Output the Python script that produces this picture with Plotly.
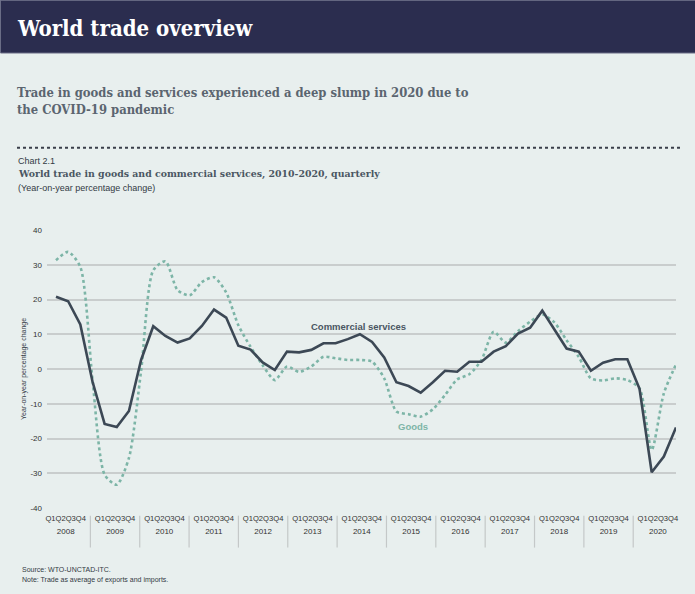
import plotly.graph_objects as go

years = [str(y) for y in range(2008, 2021)]
quarter_label = "Q1Q2Q3Q4"

commercial_services = [
    20.8, 19.5, 12.8, -3.6,
    -15.8, -16.7, -12.1, 2.6,
    12.3, 9.5, 7.6, 8.8,
    12.4, 17.1, 14.8, 6.7,
    5.6, 1.9, -0.3, 5.0,
    4.8, 5.5, 7.4, 7.4,
    8.6, 10.0, 7.8, 3.3,
    -3.8, -4.9, -6.8, -3.8,
    -0.5, -0.8, 2.1, 2.1,
    5.0, 6.6, 10.2, 11.9,
    16.8, 11.2, 5.9, 5.0,
    -0.5, 1.8, 2.8, 2.8,
    -5.7, -29.7, -25.2, -16.8,
]
goods = [
    31.3, 33.7, 29.4, -3.0,
    -30.4, -33.3, -25.6, -0.5,
    28.4, 31.0, 22.7, 21.2,
    25.0, 26.4, 22.0, 12.6,
    6.4, 1.1, -3.2, 0.7,
    -0.8, 0.7, 3.5, 3.1,
    2.6, 2.6, 2.1, -2.7,
    -12.2, -13.0, -13.7, -11.6,
    -7.5, -3.0, -1.5, 2.6,
    10.7, 7.6, 10.9, 13.6,
    15.7, 13.4, 8.3, 3.5,
    -2.7, -3.3, -2.7, -3.2,
    -5.6, -23.3, -7.0, 1.3,
]
y_ticks = [40, 30, 20, 10, 0, -10, -20, -30, -40]
y_tick_text = ["40", "30", "20", "10", "0", "-10", "-20", "-30", "-40"]

x_idx = list(range(len(commercial_services)))

BG = "#e8efee"
DARK = "#3c4855"
TEAL = "#7db5a7"
GRID = "#c9cdcd"
SANS = "Liberation Sans, Arial, sans-serif"
SLAB = "DejaVu Serif, serif"
SLAB_C = "DejaVu Serif Condensed, DejaVu Serif, serif"

# pixel helpers for layout text placement (plot area 47..676 x, 229.5..508.3 y)
L, R, T, B = 47, 676, 229.5, 508.3
W, H = R - L, B - T
def px(x):
    return (x - L) / W
def py(y):
    return (B - y) / H

fig = go.Figure()
fig.add_trace(go.Scatter(
    x=x_idx, y=goods, mode="lines", name="Goods",
    line=dict(color=TEAL, width=2.6, dash="dot", shape="spline", smoothing=0.7),
    hoverinfo="skip",
))
fig.add_trace(go.Scatter(
    x=x_idx, y=commercial_services, mode="lines", name="Commercial services",
    line=dict(color=DARK, width=2.6),
    hoverinfo="skip",
))
# invisible traces to activate overlay axes for category labels
fig.add_trace(go.Scatter(x=[0], y=[0], xaxis="x2", mode="markers",
                         marker=dict(opacity=0), showlegend=False, hoverinfo="skip"))
fig.add_trace(go.Scatter(x=[0], y=[0], xaxis="x3", mode="markers",
                         marker=dict(opacity=0), showlegend=False, hoverinfo="skip"))

year_range = [-0.379, 12.367]

fig.update_layout(
    width=695, height=594,
    margin=dict(l=L, r=695 - R, t=T, b=594 - B, pad=0),
    paper_bgcolor=BG, plot_bgcolor=BG,
    showlegend=False,
    xaxis=dict(range=[-0.74, 51], showgrid=False, showticklabels=False,
               zeroline=False, showline=False, ticks=""),
    xaxis2=dict(overlaying="x", side="bottom", anchor="y", range=year_range,
                tickvals=list(range(len(years))), ticktext=[quarter_label] * len(years),
                showgrid=False, zeroline=False, showline=False, ticks="",
                tickfont=dict(family=SANS, size=7.6, color="#333333"),
                ticklabelstandoff=4),
    xaxis3=dict(overlaying="x", side="bottom", anchor="y", range=year_range,
                tickvals=list(range(len(years))), ticktext=years,
                showgrid=False, zeroline=False, showline=False, ticks="",
                tickfont=dict(family=SANS, size=8, color="#333333"),
                ticklabelstandoff=17),
    yaxis=dict(range=[-40, 40], tickvals=y_ticks, ticktext=y_tick_text,
               showgrid=True, gridcolor=GRID,
               gridwidth=1.6, zeroline=True, zerolinecolor=GRID, zerolinewidth=1.6,
               showline=False, ticks="",
               tickfont=dict(family=SANS, size=8, color="#333333"),
               ticklabelstandoff=4),
)

shapes = []
# header band
shapes.append(dict(type="rect", xref="paper", yref="paper",
                   x0=px(0.5), x1=px(696), y0=py(52), y1=py(-1),
                   fillcolor="#2b2d4f", line=dict(color="#6a6d86", width=1), layer="below"))
# dotted rule
shapes.append(dict(type="line", xref="paper", yref="paper",
                   x0=px(17), x1=px(681), y0=py(147), y1=py(147),
                   line=dict(color="#3a3f4a", width=2, dash="dot")))
# year separators
for k in range(len(years) - 1):
    shapes.append(dict(type="line", xref="x2", yref="paper",
                       x0=k + 0.5, x1=k + 0.5, y0=py(516), y1=py(548),
                       line=dict(color="#c4c8c8", width=1.2)))
fig.update_layout(shapes=shapes)

ann = []
ann.append(dict(text="<b>World trade overview</b>", xref="paper", yref="paper",
                x=px(15), y=py(27), xanchor="left", yanchor="middle", showarrow=False,
                font=dict(family=SLAB_C, size=22, color="white")))
ann.append(dict(text="<b>Trade in goods and services experienced a deep slump in 2020 due to<br>the COVID-19 pandemic</b>",
                xref="paper", yref="paper", x=px(15), y=py(82), xanchor="left", yanchor="top",
                align="left", showarrow=False,
                font=dict(family=SLAB_C, size=12.9, color="#5b6570")))
ann.append(dict(text="Chart 2.1", xref="paper", yref="paper", x=px(16), y=py(160),
                xanchor="left", yanchor="middle", showarrow=False,
                font=dict(family=SANS, size=9, color="#333a44")))
ann.append(dict(text="<b>World trade in goods and commercial services, 2010-2020, quarterly</b>",
                xref="paper", yref="paper", x=px(16), y=py(173),
                xanchor="left", yanchor="middle", showarrow=False,
                font=dict(family=SLAB, size=9.4, color="#4a5662")))
ann.append(dict(text="(Year-on-year percentage change)", xref="paper", yref="paper", x=px(16), y=py(187),
                xanchor="left", yanchor="middle", showarrow=False,
                font=dict(family=SANS, size=9, color="#333a44")))
ann.append(dict(text="Year-on-year percentage change", xref="paper", yref="paper",
                x=px(24), y=0.5, textangle=-90, xanchor="center", yanchor="middle", showarrow=False,
                font=dict(family=SANS, size=7, color="#333a44")))
ann.append(dict(text="<b>Commercial services</b>", xref="x", yref="y", x=24.9, y=12.3,
                showarrow=False, font=dict(family=SANS, size=9.5, color="#4a5662")))
ann.append(dict(text="<b>Goods</b>", xref="x", yref="y", x=29.4, y=-16.6,
                showarrow=False, font=dict(family=SANS, size=9.5, color=TEAL)))
ann.append(dict(text="Source: WTO-UNCTAD-ITC.", xref="paper", yref="paper", x=px(20), y=py(570),
                xanchor="left", yanchor="middle", showarrow=False,
                font=dict(family=SANS, size=7, color="#333a44")))
ann.append(dict(text="Note: Trade as average of exports and imports.", xref="paper", yref="paper",
                x=px(20), y=py(581), xanchor="left", yanchor="middle", showarrow=False,
                font=dict(family=SANS, size=7, color="#333a44")))
fig.update_layout(annotations=ann)

fig.write_html("out.html",
               config={"displayModeBar": False},
               post_script="document.body.style.margin='0';document.body.style.background='#e8efee';")
